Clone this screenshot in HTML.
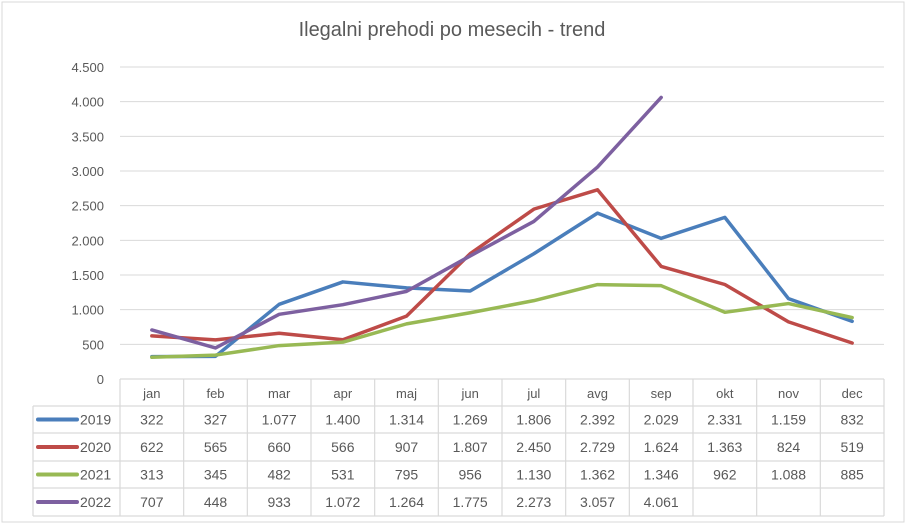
<!DOCTYPE html>
<html><head><meta charset="utf-8"><style>
html,body{margin:0;padding:0;background:#fff}
svg{display:block;font-family:"Liberation Sans",sans-serif}
</style></head><body>
<svg id="c" width="908" height="528"></svg>
<script>
const months=["jan","feb","mar","apr","maj","jun","jul","avg","sep","okt","nov","dec"];
const seriesNames=["2019","2020","2021","2022"];
const s2019=[322,327,1077,1400,1314,1269,1806,2392,2029,2331,1159,832];
const s2020=[622,565,660,566,907,1807,2450,2729,1624,1363,824,519];
const s2021=[313,345,482,531,795,956,1130,1362,1346,962,1088,885];
const s2022=[707,448,933,1072,1264,1775,2273,3057,4061];
const yTicks=[0,500,1000,1500,2000,2500,3000,3500,4000,4500];
const colors=["#4a7ebb","#be4b48","#98b954","#7d60a0"];
const all=[s2019,s2020,s2021,s2022];
const L=120,R=884,T=67,B=379,yMax=4500,cw=(R-L)/12;
const x=i=>L+cw*(i+0.5);
const y=v=>B-(v/yMax)*(B-T);
const fmt=v=>v>=1000?Math.floor(v/1000)+"."+String(v%1000).padStart(3,"0"):String(v);
const svg=document.getElementById('c');
const NS="http://www.w3.org/2000/svg";
function mk(t,a,txt){const e=document.createElementNS(NS,t);for(const k in a)e.setAttribute(k,a[k]);if(txt!==undefined)e.textContent=txt;svg.appendChild(e);return e;}
let e=mk('rect',{x:2,y:2,width:902,height:520,fill:'#fff',stroke:'#d9d9d9'});


e=mk('text',{x:452,y:36,'text-anchor':'middle','font-size':20,fill:'#595959'},'Ilegalni prehodi po mesecih - trend');


yTicks.forEach(v=>{
  if(v>0){const g=mk('line',{x1:L,x2:R,y1:y(v),y2:y(v),stroke:'#d9d9d9'});
  
  }
  const t=mk('text',{x:104,y:y(v)+5,'text-anchor':'end','font-size':13,fill:'#595959'},fmt(v));
  
  
});
// table
const rows=[379,406,433,461,488,516];
const tl=(a)=>{const l=mk('line',Object.assign({stroke:'#d9d9d9','stroke-width':1.2},a));};
tl({x1:L,x2:R,y1:379,y2:379});
for(let r=1;r<rows.length;r++)tl({x1:33,x2:R,y1:rows[r],y2:rows[r]});
for(let i=0;i<=12;i++)tl({x1:L+cw*i,x2:L+cw*i,y1:379,y2:516});
tl({x1:33,x2:33,y1:406,y2:516});
months.forEach((m,i)=>{const t=mk('text',{x:x(i),y:398,'text-anchor':'middle','font-size':13,fill:'#595959'},m);
});
all.forEach((s,k)=>{
  const ry=(rows[k+1]+rows[k+2])/2+5;
  const le=mk('line',{x1:38,x2:77,y1:ry-5,y2:ry-5,stroke:colors[k],'stroke-width':4,'stroke-linecap':'round'});
  
  const lt=mk('text',{x:80,y:ry,'font-size':14,fill:'#595959'},seriesNames[k]);
  
  s.forEach((v,i)=>{const t=mk('text',{x:x(i),y:ry,'text-anchor':'middle','font-size':14,fill:'#595959'},fmt(v));
  });
  const p=mk('polyline',{points:s.map((v,i)=>x(i)+','+y(v)).join(' '),fill:'none',stroke:colors[k],'stroke-width':3.5,'stroke-linejoin':'round','stroke-linecap':'round'});
  
});
</script>
</body></html>
